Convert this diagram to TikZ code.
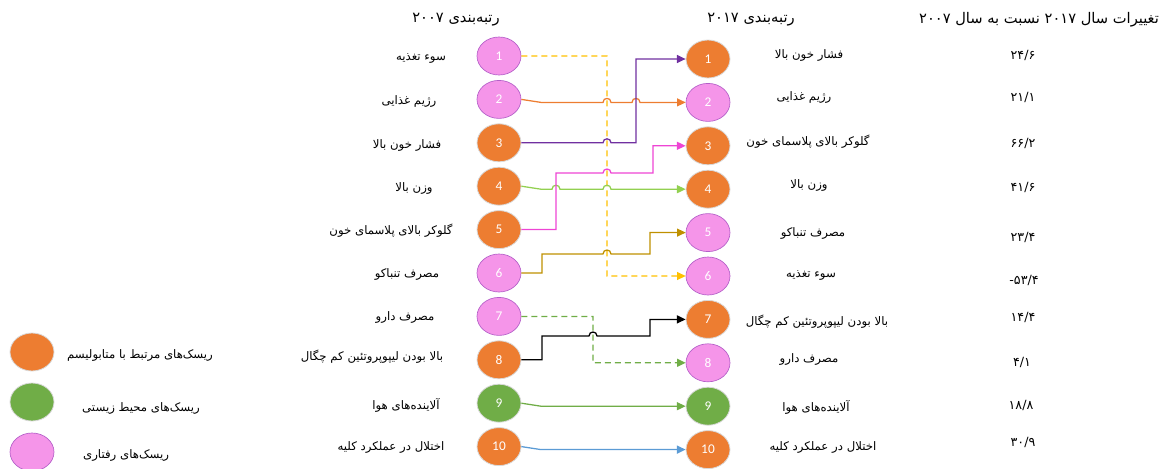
\documentclass[tikz,border=0pt]{standalone}
\usepackage{fontspec}
\usepackage{tikz}
\usetikzlibrary{shapes.geometric,arrows.meta}
\TeXXeTstate=1
\newfontfamily\farsi[Script=Arabic]{DejaVu Sans}
\newfontfamily\numfont{Carlito}
\newcommand\fatxt[1]{{\farsi\beginR #1\endR}}
\newcommand\jump[2]{-- (#1-4,#2) .. controls (#1-4,#2-5.3) and (#1+4,#2-5.3) .. (#1+4,#2)}
\definecolor{cmetab}{HTML}{ED7D31}
\definecolor{cenv}{HTML}{70AD47}
\definecolor{cbehav}{HTML}{F595E9}
\definecolor{cbehavedge}{HTML}{B45FC8}
\definecolor{cyellow}{HTML}{FFC000}
\definecolor{corange}{HTML}{ED7D31}
\definecolor{cpurple}{HTML}{7030A0}
\definecolor{cmagenta}{HTML}{EE45D4}
\definecolor{clime}{HTML}{92D050}
\definecolor{cgold}{HTML}{BF9000}
\definecolor{cblue}{HTML}{5B9BD5}

\begin{document}
\begin{tikzpicture}[x=0.75pt,y=-0.75pt,
  risk/.style={ellipse,minimum width=33pt,minimum height=28.5pt,inner sep=0pt,text=white,font=\numfont\fontsize{10}{12}\selectfont},
  metab/.style={risk,fill=cmetab,draw=black!15,line width=0.6pt},
  env/.style={risk,fill=cenv,draw=black!15,line width=0.6pt},
  behav/.style={risk,fill=cbehav,draw=cbehavedge,line width=0.5pt},
  txt/.style={font=\fontsize{8.8}{10}\selectfont,inner sep=0pt},
  num/.style={font=\farsi\fontsize{9.5}{11}\selectfont,inner sep=0pt},
  head/.style={font=\fontsize{11}{13}\selectfont,inner sep=0pt},
  link/.style={line width=0.95pt,-{Triangle[length=6.5pt,width=6pt]}},
  dashlink/.style={link,dash pattern=on 4.5pt off 3pt}]
\useasboundingbox (0,0) rectangle (1168,468);

\node[head] (h2007) at (456,20) {\fatxt{رتبه‌بندی ۲۰۰۷}};
\node[head] (h2017) at (751,20) {\fatxt{رتبه‌بندی ۲۰۱۷}};
\node[head] (hchange) at (1039,20) {\fatxt{تغییرات سال ۲۰۱۷ نسبت به سال ۲۰۰۷}};

\foreach \i/\s in {1/behav,2/behav,3/metab,4/metab,5/metab,6/behav,7/behav,8/metab,9/env,10/metab}
  \node[\s] (l\i) at (499,{56+43.4*(\i-1)}) {\i};
\foreach \i/\s in {1/metab,2/behav,3/metab,4/metab,5/behav,6/behav,7/metab,8/behav,9/env,10/metab}
  \node[\s] (r\i) at (708,{59+43.4*(\i-1)}) {\i};

\node[txt] (ll1) at (421,58) {\fatxt{سوء تغذیه}};
\node[txt] (ll2) at (409,101) {\fatxt{رژیم غذایی}};
\node[txt] (ll3) at (407,145) {\fatxt{فشار خون بالا}};
\node[txt] (ll4) at (414,188) {\fatxt{وزن بالا}};
\node[txt] (ll5) at (391,231) {\fatxt{گلوکر بالای پلاسمای خون}};
\node[txt] (ll6) at (407,274) {\fatxt{مصرف تنباکو}};
\node[txt] (ll7) at (405,317) {\fatxt{مصرف دارو}};
\node[txt] (ll8) at (372,357) {\fatxt{بالا بودن لیپوپروتئین کم چگال}};
\node[txt] (ll9) at (406,405) {\fatxt{آلاینده‌های هوا}};
\node[txt] (ll10) at (391,447) {\fatxt{اختلال در عملکرد کلیه}};

\node[txt] (rl1) at (809,55) {\fatxt{فشار خون بالا}};
\node[txt] (rl2) at (804,97) {\fatxt{رژیم غذایی}};
\node[txt] (rl3) at (808,142) {\fatxt{گلوکر بالای پلاسمای خون}};
\node[txt] (rl4) at (809,185) {\fatxt{وزن بالا}};
\node[txt] (rl5) at (813,233) {\fatxt{مصرف تنباکو}};
\node[txt] (rl6) at (811,275) {\fatxt{سوء تغذیه}};
\node[txt] (rl7) at (817,322) {\fatxt{بالا بودن لیپوپروتئین کم چگال}};
\node[txt] (rl8) at (809,359) {\fatxt{مصرف دارو}};
\node[txt] (rl9) at (816,407) {\fatxt{آلاینده‌های هوا}};
\node[txt] (rl10) at (823,447) {\fatxt{اختلال در عملکرد کلیه}};

\node[num] (c1) at (1023,55) {۲۴/۶};
\node[num] (c2) at (1023,97) {۲۱/۱};
\node[num] (c3) at (1023,143) {۶۶/۲};
\node[num] (c4) at (1023,187) {۴۱/۶};
\node[num] (c5) at (1023,237) {۲۳/۴};
\node[num] (c6) at (1024,280) {\mbox{-}\mbox{۵۳/۴}};
\node[num] (c7) at (1023,317) {۱۴/۴};
\node[num] (c8) at (1022,362) {۴/۱};
\node[num] (c9) at (1021,405) {۱۸/۸};
\node[num] (c10) at (1023,442) {۳۰/۹};

\node[metab] (kmetab) at (32,352) {};
\node[env] (kenv) at (32,402) {};
\node[behav] (kbehav) at (32,452) {};
\node[txt] (kl1) at (140,355) {\fatxt{ریسک‌های مرتبط با متابولیسم}};
\node[txt] (kl2) at (141,408) {\fatxt{ریسک‌های محیط زیستی}};
\node[txt] (kl3) at (126,455) {\fatxt{ریسک‌های رفتاری}};

\draw[dashlink,cyellow] (l1.east) -- (607,56) -- (607,276) -- (r6.west);
\draw[link,corange] (l2.east) -- (541,102.4) \jump{607}{102.4} \jump{636}{102.4} -- (r2.west);
\draw[link,cpurple] (l3.east) \jump{607}{142.8} -- (636,142.8) -- (636,59) -- (r1.west);
\draw[link,clime] (l4.east) -- (541,189.2) \jump{556}{189.2} \jump{607}{189.2} -- (r4.west);
\draw[link,cmagenta] (l5.east) -- (556,229.6) -- (556,173) \jump{607}{173} -- (653,173) -- (653,145.8) -- (r3.west);
\draw[link,cgold] (l6.east) -- (542,273) -- (542,254) \jump{607}{254} -- (650,254) -- (650,232.6) -- (r5.west);
\draw[dashlink,cenv] (l7.east) -- (593,316.4) -- (593,362.8) -- (r8.west);
\draw[link,black] (l8.east) -- (542,359.8) -- (542,336) \jump{593}{336} -- (650,336) -- (650,319.4) -- (r7.west);
\draw[link,cenv] (l9.east) -- (541,406.2) -- (r9.west);
\draw[link,cblue] (l10.east) -- (541,449.6) -- (r10.west);
\end{tikzpicture}
\end{document}
